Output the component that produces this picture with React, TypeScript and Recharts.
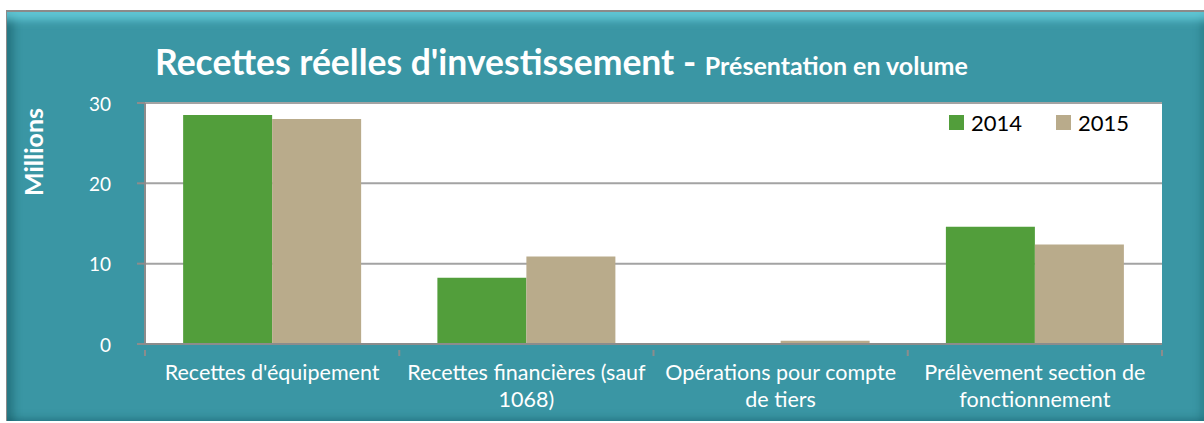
import React from 'react';
import { BarChart, Bar, XAxis, YAxis, CartesianGrid, Legend } from 'recharts';

const categories = [
  "Recettes d'équipement",
  'Recettes financières (sauf 1068)',
  'Opérations pour compte de tiers',
  'Prélèvement section de fonctionnement',
];
const values2014 = [28.5, 8.25, 0, 14.6];
const values2015 = [28.0, 10.9, 0.4, 12.4];
const yTicks = [0, 10, 20, 30];

const data = categories.map((name, i) => ({
  name,
  y2014: values2014[i],
  y2015: values2015[i],
}));

const FONT = 'Lato, "Open Sans", sans-serif';
const GREEN = '#529e3b';
const TAN = '#b9ab8b';
const AXIS_GRAY = '#8c8c8c';
const LABEL_SIZE = 21.5;

let ctx: CanvasRenderingContext2D | null = null;
const measure = (s: string) => {
  if (!ctx) ctx = document.createElement('canvas').getContext('2d');
  if (!ctx) return s.length * LABEL_SIZE * 0.5;
  ctx.font = `${LABEL_SIZE}px Lato`;
  return ctx.measureText(s).width;
};

const wrap = (s: string, maxWidth: number) => {
  const lines: string[] = [];
  let cur = '';
  s.split(' ').forEach((w) => {
    const next = cur ? `${cur} ${w}` : w;
    if (cur && measure(next) > maxWidth) {
      lines.push(cur);
      cur = w;
    } else {
      cur = next;
    }
  });
  if (cur) lines.push(cur);
  return lines;
};

const CategoryTick = (props: any) => {
  const { x, y, payload, index, visibleTicksCount } = props;
  const half = payload.offset ?? 0;
  const axisY = y - 15;
  const lines = wrap(String(payload.value), 250);
  return (
    <g>
      <line x1={x - half} x2={x - half} y1={axisY} y2={axisY + 6} stroke={AXIS_GRAY} strokeWidth={2} />
      {index === visibleTicksCount - 1 && (
        <line x1={x + half} x2={x + half} y1={axisY} y2={axisY + 6} stroke={AXIS_GRAY} strokeWidth={2} />
      )}
      <text x={x} y={y} textAnchor="middle" fill="#ffffff" fontSize={LABEL_SIZE} fontFamily={FONT}>
        {lines.map((l, i) => (
          <tspan key={i} x={x} dy={i === 0 ? '0.71em' : 27}>
            {l}
          </tspan>
        ))}
      </text>
    </g>
  );
};

const LegendBox = () => (
  <div style={{ display: 'flex', alignItems: 'center', fontFamily: FONT, fontSize: 22, color: '#000' }}>
    {[
      { label: '2014', color: GREEN },
      { label: '2015', color: TAN },
    ].map((it, i) => (
      <div key={it.label} style={{ display: 'flex', alignItems: 'center', marginRight: i === 0 ? 34 : 0 }}>
        <span style={{ width: 15, height: 15, background: it.color, display: 'inline-block', marginRight: 7 }} />
        <span>{it.label}</span>
      </div>
    ))}
  </div>
);

export default function App() {
  return (
    <div
      style={{
        position: 'absolute',
        left: 6,
        top: 10,
        width: 1198,
        height: 411,
        background: '#3a96a4',
        borderTop: '2px solid #8a8a8a',
        borderLeft: '1px solid #8a8a8a',
        boxSizing: 'border-box',
        boxShadow:
          'inset 0 14px 8px -6px rgba(110,215,230,0.75), inset 12px 0 10px -6px rgba(10,70,80,0.45), inset -8px 0 8px -6px rgba(10,70,80,0.35), inset 0 -8px 8px -6px rgba(10,70,80,0.35)',
        fontFamily: FONT,
      }}
    >
      <div
        style={{
          position: 'absolute',
          left: 148,
          top: 28,
          color: '#fff',
          fontWeight: 700,
          whiteSpace: 'nowrap',
        }}
      >
        <span style={{ fontSize: 35.5 }}>Recettes réelles d'investissement - </span>
        <span style={{ fontSize: 25 }}>Présentation en volume</span>
      </div>
      <div
        style={{
          position: 'absolute',
          left: 26,
          top: 140,
          transform: 'translate(-50%, -50%) rotate(-90deg)',
          color: '#fff',
          fontWeight: 700,
          fontSize: 25,
          whiteSpace: 'nowrap',
        }}
      >
        Millions
      </div>
      <div style={{ position: 'absolute', left: -1, top: -2 }}>
        <BarChart
          width={1198}
          height={411}
          data={data}
          margin={{ top: 93, right: 42, left: 79, bottom: 0 }}
          barCategoryGap="15%"
          barGap={0}
        >
          <CartesianGrid horizontal vertical={false} fill="#ffffff" stroke="#a3a3a3" strokeWidth={2} />
          <XAxis
            dataKey="name"
            height={77}
            interval={0}
            axisLine={{ stroke: AXIS_GRAY, strokeWidth: 2 }}
            tickLine={false}
            tickMargin={15}
            tick={<CategoryTick />}
          />
          <YAxis
            width={60}
            domain={[0, 30]}
            ticks={yTicks}
            tickSize={8}
            tickMargin={26}
            tick={{ fill: '#ffffff', fontSize: 19, fontFamily: FONT, dy: 1 }}
            tickLine={{ stroke: AXIS_GRAY, strokeWidth: 2 }}
            axisLine={{ stroke: AXIS_GRAY, strokeWidth: 2 }}
          />
          <Legend
            verticalAlign="middle"
            align="center"
            layout="horizontal"
            content={<LegendBox />}
            wrapperStyle={{ top: 99, right: 75, left: 'auto', width: 'auto' }}
          />
          <Bar dataKey="y2014" name="2014" fill={GREEN} isAnimationActive={false} />
          <Bar dataKey="y2015" name="2015" fill={TAN} isAnimationActive={false} />
        </BarChart>
      </div>
    </div>
  );
}
